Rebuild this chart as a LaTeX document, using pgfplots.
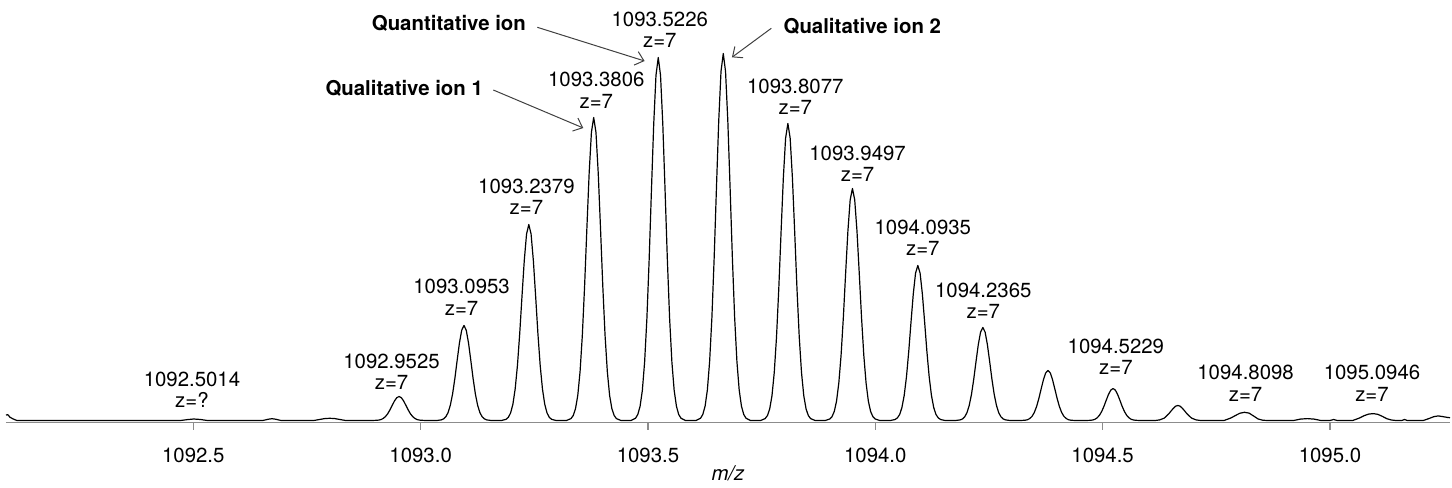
\documentclass[border=0pt]{standalone}
\usepackage{fontspec}
\setmainfont{TeX Gyre Heros}
\usepackage{pgfplots}
\pgfplotsset{compat=1.18}
\usetikzlibrary{arrows.meta}

\begin{document}
\begin{tikzpicture}[
  lbl/.style={align=center, inner sep=0pt, anchor=south, font=\fontsize{10.2}{10.8}\selectfont},
  ann/.style={inner sep=0pt, font=\fontsize{10.2}{12}\selectfont\bfseries},
  arr/.style={draw=black!75, line width=0.5pt, -{Straight Barb[length=4pt,width=7pt]}}
]
\begin{axis}[
    scale only axis,
    width=722pt, height=211.25pt,
    xmin=1092.088, xmax=1095.264,
    ymin=-2, ymax=420.5,
    axis x line*=bottom, axis y line=none,
    x axis line style={draw=black!45, line width=0.7pt},
    xtick={1092.5,1093,1093.5,1094,1094.5,1095},
    xticklabels={1092.5,1093.0,1093.5,1094.0,1094.5,1095.0},
    ytick=\empty,
    tick align=outside, major tick length=3.5pt,
    tick style={draw=black!45, line width=0.7pt},
    xticklabel style={anchor=base, yshift=-16.25pt, font=\fontsize{10.2}{12}\selectfont},
    xlabel={\textit{m/z}},
    xlabel style={at={(axis description cs:0.5,0)}, anchor=base, yshift=-28.75pt, font=\fontsize{10.2}{12}\selectfont},
    clip=false,
]
% profile spectrum, intensity in arbitrary units (baseline 0)
\addplot[black, line width=0.6pt, line join=round] coordinates {
  (1092.088,5.5) (1092.092,5.8) (1092.097,3.2) (1092.104,1.5) (1092.112,0)
  (1092.472,0) (1092.487,0.9) (1092.501,1.5) (1092.516,1.0) (1092.531,0)
  (1092.653,0) (1092.665,1.3) (1092.673,1.8) (1092.681,1.3) (1092.693,0)
  (1092.765,0) (1092.780,1.2) (1092.790,2.0) (1092.800,2.2) (1092.810,2.0) (1092.820,1.2) (1092.835,0)
  (1092.8925,0) (1092.9025,0.2) (1092.9075,0.4) (1092.9125,0.9) (1092.9175,2.0) (1092.9225,3.9)
  (1092.9275,6.7) (1092.9325,10.7) (1092.9375,15.2) (1092.9425,19.6) (1092.9475,22.8) (1092.9525,24)
  (1092.9575,22.8) (1092.9625,19.6) (1092.9675,15.2) (1092.9725,10.7) (1092.9775,6.7) (1092.9825,3.9)
  (1092.9875,2.0) (1092.9925,0.9) (1092.9975,0.4) (1093.0025,0.2) (1093.0125,0)
  (1093.0353,0) (1093.0453,0.6) (1093.0503,1.6) (1093.0553,3.7) (1093.0603,7.9) (1093.0653,15.3)
  (1093.0703,26.7) (1093.0753,42.2) (1093.0803,60.2) (1093.0853,77.5) (1093.0903,90.3) (1093.0953,95)
  (1093.1003,90.3) (1093.1053,77.5) (1093.1103,60.2) (1093.1153,42.2) (1093.1203,26.7) (1093.1253,15.3)
  (1093.1303,7.9) (1093.1353,3.7) (1093.1403,1.6) (1093.1453,0.6) (1093.1553,0)
  (1093.1779,0) (1093.1879,1.2) (1093.1929,3.2) (1093.1979,7.6) (1093.2029,16.3) (1093.2079,31.6)
  (1093.2129,55.1) (1093.2179,87.0) (1093.2229,124.3) (1093.2279,159.9) (1093.2329,186.4) (1093.2379,196)
  (1093.2429,186.4) (1093.2479,159.9) (1093.2529,124.3) (1093.2579,87.0) (1093.2629,55.1) (1093.2679,31.6)
  (1093.2729,16.3) (1093.2779,7.6) (1093.2829,3.2) (1093.2879,1.2) (1093.2979,0)
  (1093.3206,0) (1093.3306,1.9) (1093.3356,5.0) (1093.3406,11.8) (1093.3456,25.1) (1093.3506,48.8)
  (1093.3556,85.1) (1093.3606,134.5) (1093.3656,192.1) (1093.3706,247.2) (1093.3756,288.2) (1093.3806,303)
  (1093.3856,288.2) (1093.3906,247.2) (1093.3956,192.1) (1093.4006,134.5) (1093.4056,85.1) (1093.4106,48.8)
  (1093.4156,25.1) (1093.4206,11.8) (1093.4256,5.0) (1093.4306,1.9) (1093.4406,0)
  (1093.4626,0) (1093.4726,2.3) (1093.4776,6.0) (1093.4826,14.2) (1093.4876,30.1) (1093.4926,58.4)
  (1093.4976,102.0) (1093.5026,161.2) (1093.5076,230.1) (1093.5126,296.2) (1093.5176,345.2) (1093.5226,363)
  (1093.5276,345.2) (1093.5326,296.2) (1093.5376,230.1) (1093.5426,161.2) (1093.5476,102.0) (1093.5526,58.4)
  (1093.5576,30.1) (1093.5626,14.2) (1093.5676,6.0) (1093.5726,2.3) (1093.5826,0)
  (1093.6056,0) (1093.6156,2.3) (1093.6206,6.1) (1093.6256,14.3) (1093.6306,30.5) (1093.6356,59.1)
  (1093.6406,103.1) (1093.6456,162.9) (1093.6506,232.7) (1093.6556,299.5) (1093.6606,349.0) (1093.6656,367)
  (1093.6706,349.0) (1093.6756,299.5) (1093.6806,232.7) (1093.6856,162.9) (1093.6906,103.1) (1093.6956,59.1)
  (1093.7006,30.5) (1093.7056,14.3) (1093.7106,6.1) (1093.7156,2.3) (1093.7256,0)
  (1093.7477,0) (1093.7577,1.9) (1093.7627,4.9) (1093.7677,11.6) (1093.7727,24.7) (1093.7777,47.8)
  (1093.7827,83.5) (1093.7877,131.9) (1093.7927,188.3) (1093.7977,242.4) (1093.8027,282.4) (1093.8077,297)
  (1093.8127,282.4) (1093.8177,242.4) (1093.8227,188.3) (1093.8277,131.9) (1093.8327,83.5) (1093.8377,47.8)
  (1093.8427,24.7) (1093.8477,11.6) (1093.8527,4.9) (1093.8577,1.9) (1093.8677,0)
  (1093.8897,0) (1093.8997,1.5) (1093.9047,3.8) (1093.9097,9.0) (1093.9147,19.3) (1093.9197,37.4)
  (1093.9247,65.2) (1093.9297,103.0) (1093.9347,147.1) (1093.9397,189.3) (1093.9447,220.6) (1093.9497,232)
  (1093.9547,220.6) (1093.9597,189.3) (1093.9647,147.1) (1093.9697,103.0) (1093.9747,65.2) (1093.9797,37.4)
  (1093.9847,19.3) (1093.9897,9.0) (1093.9947,3.8) (1093.9997,1.5) (1094.0097,0)
  (1094.0335,0) (1094.0435,1.0) (1094.0485,2.6) (1094.0535,6.0) (1094.0585,12.9) (1094.0635,25.0)
  (1094.0685,43.6) (1094.0735,68.8) (1094.0785,98.3) (1094.0835,126.5) (1094.0885,147.4) (1094.0935,155)
  (1094.0985,147.4) (1094.1035,126.5) (1094.1085,98.3) (1094.1135,68.8) (1094.1185,43.6) (1094.1235,25.0)
  (1094.1285,12.9) (1094.1335,6.0) (1094.1385,2.6) (1094.1435,1.0) (1094.1535,0)
  (1094.1765,0) (1094.1865,0.6) (1094.1915,1.5) (1094.1965,3.6) (1094.2015,7.7) (1094.2065,15.0)
  (1094.2115,26.1) (1094.2165,41.3) (1094.2215,59.0) (1094.2265,75.9) (1094.2315,88.4) (1094.2365,93)
  (1094.2415,88.4) (1094.2465,75.9) (1094.2515,59.0) (1094.2565,41.3) (1094.2615,26.1) (1094.2665,15.0)
  (1094.2715,7.7) (1094.2765,3.6) (1094.2815,1.5) (1094.2865,0.6) (1094.2965,0)
  (1094.3198,0) (1094.3298,0.3) (1094.3348,0.8) (1094.3398,2.0) (1094.3448,4.2) (1094.3498,8.1)
  (1094.3548,14.1) (1094.3598,22.2) (1094.3648,31.7) (1094.3698,40.8) (1094.3748,47.6) (1094.3798,50)
  (1094.3848,47.6) (1094.3898,40.8) (1094.3948,31.7) (1094.3998,22.2) (1094.4048,14.1) (1094.4098,8.1)
  (1094.4148,4.2) (1094.4198,2.0) (1094.4248,0.8) (1094.4298,0.3) (1094.4398,0)
  (1094.4629,0) (1094.4729,0.2) (1094.4779,0.5) (1094.4829,1.2) (1094.4879,2.7) (1094.4929,5.2)
  (1094.4979,9.0) (1094.5029,14.2) (1094.5079,20.3) (1094.5129,26.1) (1094.5179,30.4) (1094.5229,32)
  (1094.5279,30.4) (1094.5329,26.1) (1094.5379,20.3) (1094.5429,14.2) (1094.5479,9.0) (1094.5529,5.2)
  (1094.5579,2.7) (1094.5629,1.2) (1094.5679,0.5) (1094.5729,0.2) (1094.5829,0)
  (1094.6155,0) (1094.6255,0.6) (1094.6355,2.4) (1094.6455,6.7) (1094.6505,9.5) (1094.6555,12.2)
  (1094.6605,14.3) (1094.6655,15) (1094.6705,14.3) (1094.6755,12.2) (1094.6805,9.5) (1094.6855,6.7)
  (1094.6955,2.4) (1094.7055,0.6) (1094.7155,0)
  (1094.767,0) (1094.782,2.5) (1094.792,5.0) (1094.802,7.3) (1094.812,8.2) (1094.822,7.4) (1094.832,4.5)
  (1094.842,1.5) (1094.852,0.3) (1094.862,0)
  (1094.920,0) (1094.935,1.4) (1094.950,1.9) (1094.965,1.4) (1094.980,0)
  (1095.000,0) (1095.008,1.0) (1095.016,0)
  (1095.050,0) (1095.065,2.5) (1095.075,4.8) (1095.085,6.4) (1095.095,6.9) (1095.105,6.2) (1095.115,4.2)
  (1095.125,1.8) (1095.135,0.5) (1095.145,0)
  (1095.158,0) (1095.164,1.0) (1095.170,0)
  (1095.205,0) (1095.218,2.0) (1095.228,3.8) (1095.238,4.6) (1095.248,3.9) (1095.258,3.1) (1095.264,2.8)
};

% peak labels
\node[lbl] at (axis cs:1092.497,12.5)  {1092.5014\\z=?};
\node[lbl] at (axis cs:1092.936,30.5)  {1092.9525\\z=7};
\node[lbl] at (axis cs:1093.090,104.8) {1093.0953\\z=7};
\node[lbl] at (axis cs:1093.2327,205.5) {1093.2379\\z=7};
\node[lbl] at (axis cs:1093.3863,312)  {1093.3806\\z=7};
\node[lbl] at (axis cs:1093.526,372.5) {1093.5226\\z=7};
\node[lbl] at (axis cs:1093.824,305.5) {1093.8077\\z=7};
\node[lbl] at (axis cs:1093.961,238.5) {1093.9497\\z=7};
\node[lbl] at (axis cs:1094.1045,164.5) {1094.0935\\z=7};
\node[lbl] at (axis cs:1094.2375,101.2) {1094.2365\\z=7};
\node[lbl] at (axis cs:1094.5291,45.5) {1094.5229\\z=7};
\node[lbl] at (axis cs:1094.8144,18.8) {1094.8098\\z=7};
\node[lbl] at (axis cs:1095.0924,18.8) {1095.0946\\z=7};

% annotations
\node[ann, anchor=base east] at (axis cs:1093.2323,390.5) {Quantitative ion};
\draw[arr] (axis cs:1093.2566,393.2) -- (axis cs:1093.4925,359.5);
\node[ann, anchor=base east] at (axis cs:1093.1378,324.8) {Qualitative ion 1};
\draw[arr] (axis cs:1093.1598,330.5) -- (axis cs:1093.3577,292.5);
\node[ann, anchor=base west] at (axis cs:1093.7975,387.2) {Qualitative ion 2};
\draw[arr] (axis cs:1093.7712,392.2) -- (axis cs:1093.6847,363.2);
\end{axis}
\path ([xshift=-3pt,yshift=-30.75pt]current axis.south west) rectangle ([xshift=1pt]current axis.north east);
\end{tikzpicture}
\end{document}
